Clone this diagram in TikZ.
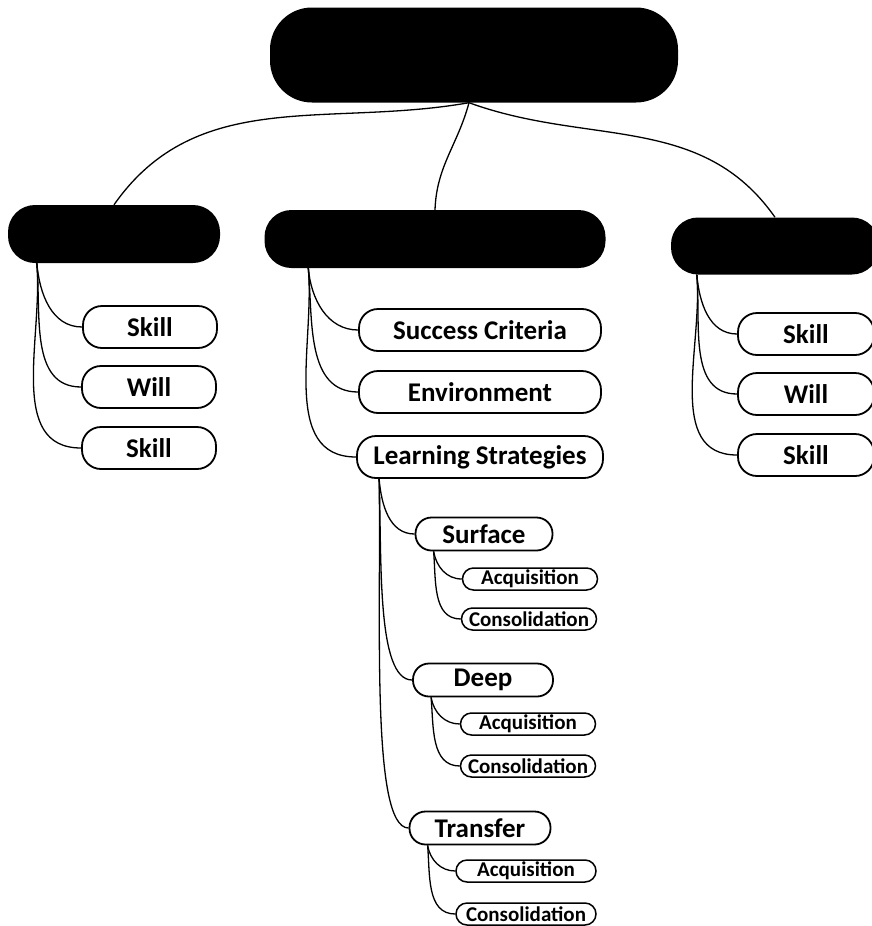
\documentclass[tikz,border=0pt]{standalone}
\usepackage{fontspec}
\setmainfont{Carlito}
\begin{document}
\begin{tikzpicture}[x=1pt, y=-1pt,
  blackbox/.style={fill=black, inner sep=0pt},
  pill/.style={draw, line width=1.8pt, fill=white, inner sep=0pt, rounded corners=19pt, minimum height=42pt, font=\fontsize{27}{27}\selectfont\bfseries},
  midpill/.style={pill, minimum height=33pt, rounded corners=16pt},
  smallpill/.style={pill, line width=1.5pt, minimum height=22pt, rounded corners=11pt, minimum width=135pt, font=\fontsize{21}{21}\selectfont\bfseries},
  branch/.style={line width=1.3pt}]
\useasboundingbox (0,0) rectangle (872,926);

% top level (blacked out)
\node (root) at (474,55) [blackbox, minimum width=408pt, minimum height=95pt, rounded corners=42pt] {};
\node (head1) at (114,234) [blackbox, minimum width=212pt, minimum height=58pt, rounded corners=27pt] {};
\node (head2) at (435,239) [blackbox, minimum width=341pt, minimum height=58pt, rounded corners=27pt] {};
\node (head3) at (775,246) [blackbox, minimum width=208pt, minimum height=57pt, rounded corners=27pt] {};

\draw[branch] ([xshift=-5pt]root.south) to[out=190, in=55] (head1.north);
\draw[branch] ([xshift=-5pt]root.south) to[out=-105, in=88] (head2.north);
\draw[branch] ([xshift=-5pt]root.south) to[out=-20, in=125] (head3.north);

% left branch
\node (l1) at (150,327) [pill, minimum width=134pt] {Skill};
\node (l2) at (149,387) [pill, minimum width=134pt] {Will};
\node (l3) at (149,448) [pill, minimum width=134pt] {Skill};
\draw[branch] ([xshift=29pt]head1.south west) to[out=-85, in=180] (l1.west);
\draw[branch] ([xshift=29pt]head1.south west) to[out=-85, in=180] (l2.west);
\draw[branch] ([xshift=29pt]head1.south west) to[out=-85, in=180] (l3.west);

% middle branch
\node (m1) at (480,330) [pill, minimum width=242pt] {Success Criteria};
\node (m2) at (480,392) [pill, minimum width=242pt] {Environment};
\node (m3) at (480,457) [pill, minimum width=246pt] {Learning Strategies};
\draw[branch] ([xshift=44pt]head2.south west) to[out=-85, in=180] (m1.west);
\draw[branch] ([xshift=44pt]head2.south west) to[out=-85, in=180] (m2.west);
\draw[branch] ([xshift=44pt]head2.south west) to[out=-85, in=180] (m3.west);

% right branch
\node (r1) at (806,334) [pill, minimum width=136pt] {Skill};
\node (r2) at (806,394) [pill, minimum width=136pt] {Will};
\node (r3) at (806,455) [pill, minimum width=136pt] {Skill};
\draw[branch] ([xshift=26pt]head3.south west) to[out=-85, in=180] (r1.west);
\draw[branch] ([xshift=26pt]head3.south west) to[out=-85, in=180] (r2.west);
\draw[branch] ([xshift=26pt]head3.south west) to[out=-85, in=180] (r3.west);

% learning strategies
\node (surf) at (484,534) [midpill, minimum width=137pt] {Surface};
\node (deep) at (483,680) [midpill, minimum width=140pt] {Deep};
\node (trans) at (480,828) [midpill, minimum width=141pt] {Transfer};
\draw[branch] ([xshift=23pt]m3.south west) to[out=-85, in=180] (surf.west);
\draw[branch] ([xshift=23pt]m3.south west) to[out=-88, in=180, in looseness=0.45] (deep.west);
\draw[branch] ([xshift=23pt]m3.south west) to[out=-89, in=180, in looseness=0.28] (trans.west);

\node (sacq) at (530,579) [smallpill] {Acquisition};
\node (scon) at (529,619) [smallpill] {Consolidation};
\draw[branch] ([xshift=19pt]surf.south west) to[out=-80, in=180] (sacq.west);
\draw[branch] ([xshift=19pt]surf.south west) to[out=-85, in=180] (scon.west);

\node (dacq) at (528,724) [smallpill] {Acquisition};
\node (dcon) at (528,766) [smallpill] {Consolidation};
\draw[branch] ([xshift=19pt]deep.south west) to[out=-80, in=180] (dacq.west);
\draw[branch] ([xshift=19pt]deep.south west) to[out=-85, in=180] (dcon.west);

\node (tacq) at (526,871) [smallpill, minimum width=140pt] {Acquisition};
\node (tcon) at (526,914) [smallpill, minimum width=140pt] {Consolidation};
\draw[branch] ([xshift=19pt]trans.south west) to[out=-80, in=180] (tacq.west);
\draw[branch] ([xshift=19pt]trans.south west) to[out=-85, in=180] (tcon.west);
\end{tikzpicture}
\end{document}
